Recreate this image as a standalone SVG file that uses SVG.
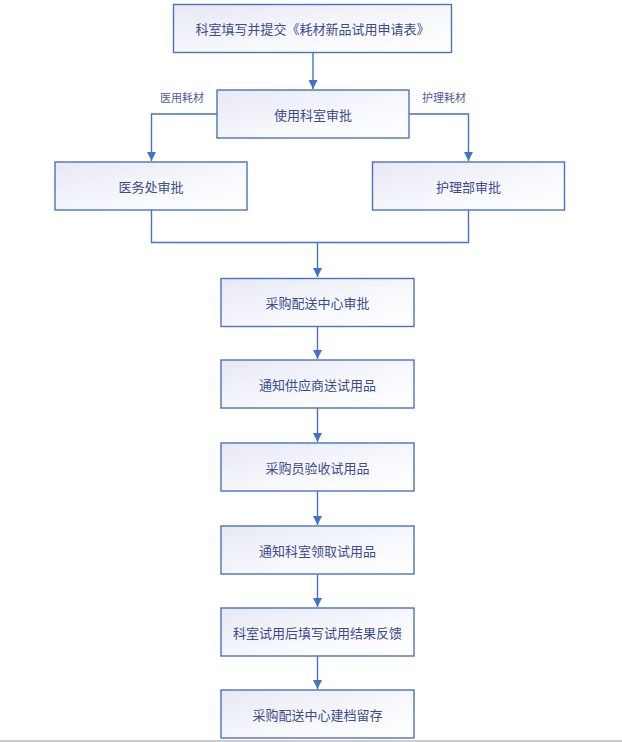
<svg xmlns="http://www.w3.org/2000/svg" width="622" height="742" viewBox="0 0 622 742">
<defs>
<linearGradient id="g" x1="0" y1="0" x2="1" y2="1">
<stop offset="0" stop-color="#e6e8f4"/>
<stop offset="0.6" stop-color="#f8f9fd"/>
<stop offset="1" stop-color="#ffffff"/>
</linearGradient>
<marker id="arr" markerWidth="10" markerHeight="10" refX="9" refY="4.5" orient="auto" markerUnits="userSpaceOnUse">
<path d="M0,0 L9,4.5 L0,9 Z" fill="#4472c4"/>
</marker>
<style>
.box{fill:url(#g);stroke:#4a72c0;stroke-width:1.4}
.t{font-family:"Noto Sans CJK SC","Noto Sans",sans-serif;font-size:13px;fill:#3d4c8f;text-anchor:middle;dominant-baseline:central}
.l{font-family:"Noto Sans CJK SC","Noto Sans",sans-serif;font-size:11px;fill:#4f5ea0;text-anchor:middle;dominant-baseline:central}
.c{fill:none;stroke:#4472c4;stroke-width:1.4}
</style>
</defs>
<rect width="622" height="742" fill="#ffffff"/>
<g id="connectors">
<path class="c" d="M313,52 V89" marker-end="url(#arr)"/>
<path class="c" d="M217,114 H151.5 V161" marker-end="url(#arr)"/>
<path class="c" d="M409,114 H468.5 V161" marker-end="url(#arr)"/>
<path class="c" d="M151.5,210 V242.5 H468.5 V210"/>
<path class="c" d="M317.5,242.5 V277" marker-end="url(#arr)"/>
<path class="c" d="M317.5,326 V359" marker-end="url(#arr)"/>
<path class="c" d="M317.5,408 V442" marker-end="url(#arr)"/>
<path class="c" d="M317.5,491 V525" marker-end="url(#arr)"/>
<path class="c" d="M317.5,574 V607" marker-end="url(#arr)"/>
<path class="c" d="M317.5,656 V689" marker-end="url(#arr)"/>
<text class="l" x="182" y="97">医用耗材</text>
<text class="l" x="444" y="97">护理耗材</text>
</g>
<g id="n1"><rect class="box" x="173.5" y="4.5" width="278" height="48"/><text class="t" x="312.5" y="28.5">科室填写并提交《耗材新品试用申请表》</text></g>
<g id="n2"><rect class="box" x="217" y="90" width="192" height="48"/><text class="t" x="313" y="114">使用科室审批</text></g>
<g id="n3"><rect class="box" x="55" y="162" width="192" height="48"/><text class="t" x="151" y="186">医务处审批</text></g>
<g id="n4"><rect class="box" x="372.5" y="162" width="192" height="48"/><text class="t" x="468.5" y="186">护理部审批</text></g>
<g id="n5"><rect class="box" x="221" y="278.5" width="193" height="48"/><text class="t" x="317.5" y="302.5">采购配送中心审批</text></g>
<g id="n6"><rect class="box" x="221" y="360" width="193" height="48"/><text class="t" x="317.5" y="384">通知供应商送试用品</text></g>
<g id="n7"><rect class="box" x="221" y="443" width="193" height="48"/><text class="t" x="317.5" y="467">采购员验收试用品</text></g>
<g id="n8"><rect class="box" x="221" y="526" width="193" height="48"/><text class="t" x="317.5" y="550">通知科室领取试用品</text></g>
<g id="n9"><rect class="box" x="221" y="608" width="193" height="48"/><text class="t" x="317.5" y="632">科室试用后填写试用结果反馈</text></g>
<g id="n10"><rect class="box" x="221" y="690" width="193" height="48"/><text class="t" x="317.5" y="714">采购配送中心建档留存</text></g>
<line x1="0" y1="741" x2="622" y2="741" stroke="#bbbbbb" stroke-width="1.5"/>
</svg>
